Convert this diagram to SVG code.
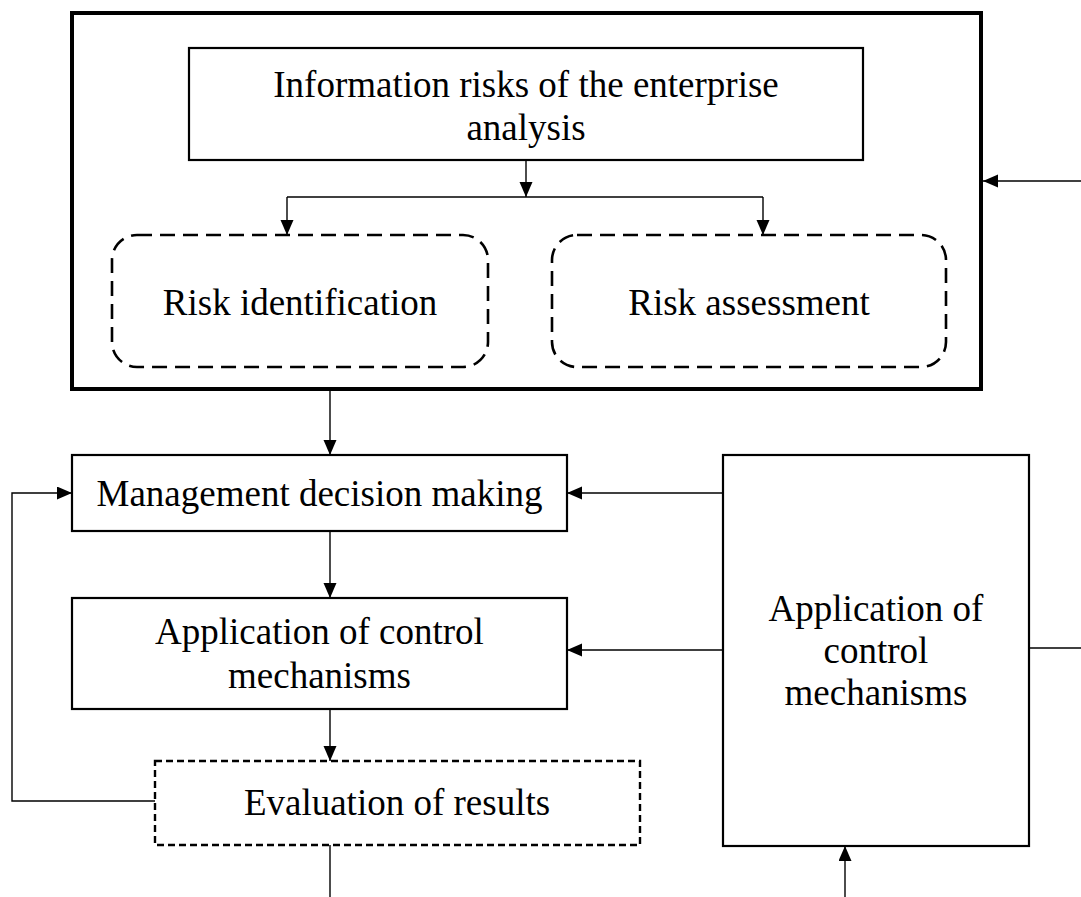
<svg xmlns="http://www.w3.org/2000/svg" width="1081" height="897" viewBox="0 0 1081 897">
  <style>
    .box { fill: #fff; stroke: #000; stroke-width: 2.2; }
    .outer { fill: none; stroke: #000; stroke-width: 4; }
    .dash { fill: #fff; stroke: #000; stroke-width: 2.6; stroke-dasharray: 15 8; }
    .dot { fill: #fff; stroke: #000; stroke-width: 2.4; stroke-dasharray: 7 4; }
    .lbl { font-family: "Liberation Serif", "Times New Roman", serif; font-size: 37px; fill: #000; text-anchor: middle; }
    .conn { fill: none; stroke: #000; stroke-width: 1.4; }
  </style>
  <defs>
    <marker id="arrow" markerUnits="userSpaceOnUse" markerWidth="16" markerHeight="14" refX="15" refY="6.5" orient="auto">
      <path d="M0,0 L15,6.5 L0,13 Z" fill="#000"/>
    </marker>
  </defs>
  <rect width="1081" height="897" fill="#fff"/>

  <!-- analysis block frame -->
  <g id="analysis-frame">
    <rect class="outer" x="72" y="13" width="909" height="376"/>
  </g>

  <g id="info-risks">
    <rect class="box" x="189" y="48" width="674" height="112"/>
    <text class="lbl" x="526" y="97">Information risks of the enterprise</text>
    <text class="lbl" x="526" y="140">analysis</text>
  </g>

  <g id="risk-identification">
    <rect class="dash" x="112" y="235" width="376" height="132" rx="25" ry="25"/>
    <text class="lbl" x="300" y="315">Risk identification</text>
  </g>

  <g id="risk-assessment">
    <rect class="dash" x="552" y="235" width="394" height="132" rx="25" ry="25"/>
    <text class="lbl" x="749" y="315">Risk assessment</text>
  </g>

  <g id="management-decision">
    <rect class="box" x="72" y="455" width="495" height="76"/>
    <text class="lbl" x="319.5" y="506">Management decision making</text>
  </g>

  <g id="apply-controls">
    <rect class="box" x="72" y="598" width="495" height="111"/>
    <text class="lbl" x="319.5" y="644">Application of control</text>
    <text class="lbl" x="319.5" y="688">mechanisms</text>
  </g>

  <g id="evaluation">
    <rect class="dot" x="155" y="761" width="485" height="84"/>
    <text class="lbl" x="397" y="815">Evaluation of results</text>
  </g>

  <g id="control-mechanisms">
    <rect class="box" x="723" y="455" width="306" height="391"/>
    <text class="lbl" x="876" y="621">Application of</text>
    <text class="lbl" x="876" y="663">control</text>
    <text class="lbl" x="876" y="705">mechanisms</text>
  </g>

  <g id="connectors">
    <path class="conn" d="M526,160 V197" marker-end="url(#arrow)"/>
    <path class="conn" d="M287,197 H763"/>
    <path class="conn" d="M287,197 V235" marker-end="url(#arrow)"/>
    <path class="conn" d="M763,197 V235" marker-end="url(#arrow)"/>
    <path class="conn" d="M1081,181 H983" marker-end="url(#arrow)"/>
    <path class="conn" d="M330,391 V455" marker-end="url(#arrow)"/>
    <path class="conn" d="M330,531 V598" marker-end="url(#arrow)"/>
    <path class="conn" d="M330,709 V761" marker-end="url(#arrow)"/>
    <path class="conn" d="M330,845 V897"/>
    <path class="conn" d="M155,801 H12 V493 H72" marker-end="url(#arrow)"/>
    <path class="conn" d="M723,493 H567" marker-end="url(#arrow)"/>
    <path class="conn" d="M723,650 H567" marker-end="url(#arrow)"/>
    <path class="conn" d="M1029,648 H1081"/>
    <path class="conn" d="M845,897 V846" marker-end="url(#arrow)"/>
  </g>
</svg>
